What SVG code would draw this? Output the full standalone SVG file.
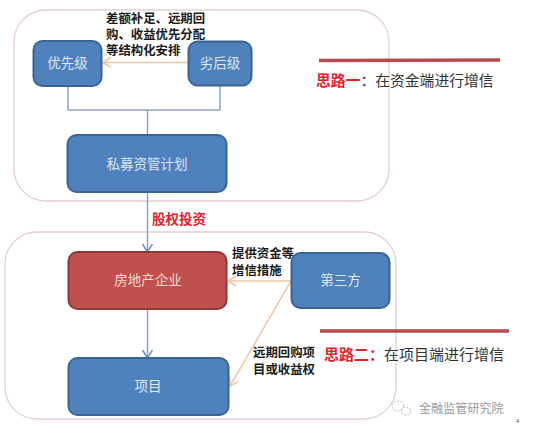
<svg xmlns="http://www.w3.org/2000/svg" width="556" height="434" viewBox="0 0 556 434">
<defs>
<marker id="ab" markerWidth="12" markerHeight="12" refX="9" refY="5" orient="auto" markerUnits="userSpaceOnUse"><path d="M1 0L9 5L1 10" fill="none" stroke="#6f8fbd" stroke-width="1.5"/></marker>
<marker id="ao" markerWidth="12" markerHeight="12" refX="9" refY="5" orient="auto" markerUnits="userSpaceOnUse"><path d="M1 0L9 5L1 10" fill="none" stroke="#f2c6a0" stroke-width="1.5"/></marker>
</defs>
<style>
text{font-family:"Liberation Sans","Noto Sans CJK SC",sans-serif}
.frame{fill:#fff;fill-opacity:0;stroke:#e6cfcf;stroke-width:1.3}
.n{stroke-width:2}
.b{fill:#4f81bd;stroke:#3a6591}
.r{fill:#c0504d;stroke:#8c3a38}
.t{fill:#dfe8f3;font-size:13.500px;text-anchor:middle}
.l{fill:#1a1a1a;font-size:12.400px;font-weight:700}
.c{fill:none;stroke:#8ba3c6;stroke-width:1.500}
.o{fill:none;stroke:#f2c6a0;stroke-width:1.500}
.bar{stroke:#b84a4c;stroke-width:3.500}
.h{font-size:14.800px}
.red{fill:#e3222a;font-weight:700}
.ink{fill:#333}
</style>
<rect width="556" height="434" fill="#fff"/>
<g id="frames">
<rect class="frame" x="14" y="10" width="375" height="191" rx="32"/>
<rect class="frame" x="5" y="232" width="391" height="187" rx="32"/>
</g>
<g id="connectors">
<path class="c" d="M68 86V110H220V86M147.500 110V135"/>
<path class="c" d="M147.500 192V252" marker-end="url(#ab)"/>
<path class="c" d="M147.500 309V358" marker-end="url(#ab)"/>
<path class="o" d="M188 62.500H103" marker-end="url(#ao)"/>
<path class="o" d="M291 281H228" marker-end="url(#ao)"/>
<path class="o" d="M291 281L230 386" marker-end="url(#ao)"/>
</g>
<g id="node-senior"><rect class="n b" x="33.500" y="41" width="68" height="45" rx="9"/><text class="t" x="67.500" y="68">优先级</text></g>
<g id="node-junior"><rect class="n b" x="188.500" y="41.500" width="63" height="44" rx="9"/><text class="t" x="220" y="68">劣后级</text></g>
<g id="node-plan"><rect class="n b" x="67.500" y="135" width="159" height="57" rx="9"/><text class="t" x="147" y="168.500">私募资管计划</text></g>
<g id="node-developer"><rect class="n r" x="68.500" y="252" width="158" height="57" rx="9"/><text class="t" x="148" y="285" style="fill:#f3dcd6">房地产企业</text></g>
<g id="node-project"><rect class="n b" x="68.500" y="358" width="160" height="57" rx="9"/><text class="t" x="148" y="391">项目</text></g>
<g id="node-third"><rect class="n b" x="291.500" y="253" width="98" height="55" rx="9"/><text class="t" x="340.500" y="285">第三方</text></g>
<g id="labels">
<text class="l" x="106" y="23"><tspan x="106" y="23">差额补足、远期回</tspan><tspan x="106" y="39">购、收益优先分配</tspan><tspan x="106" y="55">等结构化安排</tspan></text>
<text class="l" x="152" y="224" style="fill:#e3222a;font-size:13.500px">股权投资</text>
<text class="l" x="232" y="258"><tspan x="232" y="258">提供资金等</tspan><tspan x="232" y="275">增信措施</tspan></text>
<text class="l" x="253" y="357"><tspan x="253" y="357">远期回购项</tspan><tspan x="253" y="374">目或收益权</tspan></text>
</g>
<g id="idea-one">
<line class="bar" x1="319" y1="60.500" x2="500" y2="60"/>
<text class="h" x="316" y="86"><tspan class="red">思路一</tspan><tspan class="ink">：在资金端进行增信</tspan></text>
</g>
<g id="idea-two">
<line class="bar" x1="320" y1="331" x2="509" y2="331"/>
<text class="h" x="324" y="360" style="font-size:15px"><tspan class="red">思路二：</tspan><tspan class="ink">在项目端进行增信</tspan></text>
</g>
<g id="watermark">
<ellipse cx="398" cy="406" rx="6" ry="5" fill="none" stroke="#c9c9c9" stroke-width="1.200" stroke-dasharray="2 1.500"/>
<ellipse cx="406" cy="411" rx="5" ry="4" fill="none" stroke="#c9c9c9" stroke-width="1.200" stroke-dasharray="2 1.500"/>
<text x="419" y="412.500" font-size="12.100" fill="#9a9a9a">金融监管研究院</text>
<text x="516" y="423" font-size="6" fill="#555">4</text>
</g>
</svg>
